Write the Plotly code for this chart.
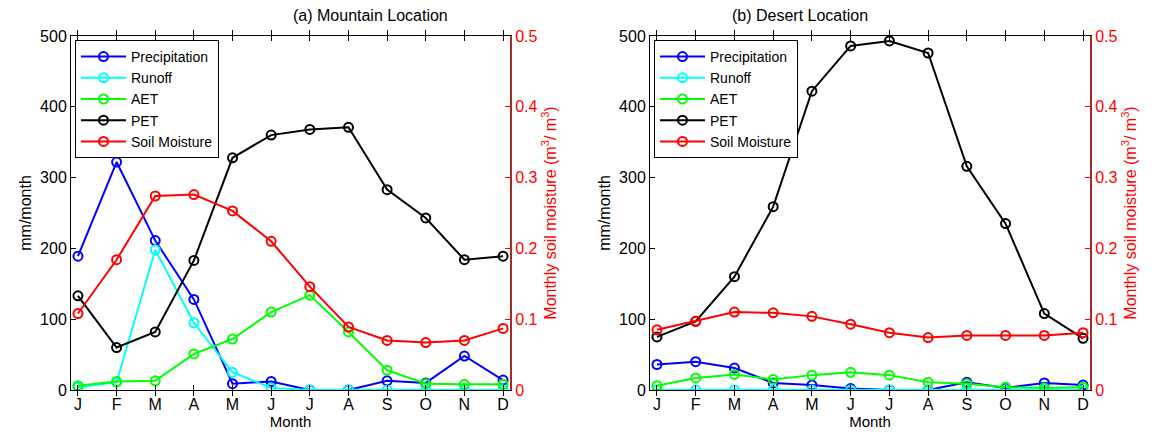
import plotly.graph_objects as go

months = ["J", "F", "M", "A", "M", "J", "J", "A", "S", "O", "N", "D"]
month_idx = list(range(1, 13))

# (a) Mountain location
mtn_precip = [189, 322, 211, 128, 9, 12, 0, 0, 13, 10, 48, 14]
mtn_runoff = [4, 11, 198, 95, 25, 3, 0, 0, 0, 0, 0, 0]
mtn_aet = [6, 12, 13, 51, 72, 110, 134, 82, 28, 9, 8, 8]
mtn_pet = [133, 60, 82, 183, 328, 360, 368, 371, 283, 243, 184, 189]
mtn_soil = [0.108, 0.184, 0.274, 0.276, 0.253, 0.210, 0.146, 0.089, 0.070, 0.067, 0.070, 0.087]

# (b) Desert location
des_precip = [36, 40, 31, 10, 7, 2, 0, 0, 11, 3, 10, 7]
des_runoff = [0, 0, 0, 0, 0, 0, 0, 0, 0, 0, 0, 0]
des_aet = [6, 17, 22, 15, 21, 25, 21, 11, 9, 4, 3, 4]
des_pet = [75, 97, 160, 259, 422, 486, 493, 476, 316, 235, 108, 73]
des_soil = [0.085, 0.097, 0.110, 0.109, 0.104, 0.093, 0.081, 0.074, 0.077, 0.077, 0.077, 0.081]

names = ["Precipitation", "Runoff", "AET", "PET", "Soil Moisture"]
colors = ["#0000FF", "#00FFFF", "#00FF00", "#000000", "#FF0000"]

FONT = "Liberation Sans, Arial, Helvetica, sans-serif"

fig = go.Figure()

def add_panel(data, xa, ya, ya2, legend):
    for i, (name, vals) in enumerate(zip(names, data)):
        fig.add_trace(go.Scatter(
            x=month_idx, y=vals, name=name, mode="lines+markers",
            line=dict(color=colors[i], width=2),
            marker=dict(symbol="circle-open", size=9, color=colors[i],
                        line=dict(width=2, color=colors[i])),
            xaxis=xa, yaxis=(ya2 if name == "Soil Moisture" else ya),
            legend=legend, showlegend=True,
        ))

add_panel([mtn_precip, mtn_runoff, mtn_aet, mtn_pet, mtn_soil], "x", "y", "y2", "legend")
add_panel([des_precip, des_runoff, des_aet, des_pet, des_soil], "x2", "y3", "y4", "legend2")

W, H = 1152, 438
dom_a = [71 / W, 510 / W]
dom_b = [650 / W, 1090 / W]
ydom = [1 - 390 / H, 1 - 36 / H]

xcommon = dict(
    range=[0.82, 12.18], tickmode="array", tickvals=month_idx, ticktext=months,
    ticks="inside", ticklen=5, tickcolor="black", showline=True, linecolor="black",
    linewidth=1, mirror="allticks", showgrid=False, zeroline=False, automargin=False,
    tickfont=dict(size=16, color="black", family=FONT),
    title=dict(text="Month", font=dict(size=15, family=FONT), standoff=2),
)
ycommon = dict(
    range=[0, 500], tickvals=[0, 100, 200, 300, 400, 500], ticks="inside", ticklen=5,
    tickcolor="black", showline=True, linecolor="black", linewidth=1, showgrid=False,
    zeroline=False, automargin=False, tickfont=dict(size=16, color="black", family=FONT),
    title=dict(text="mm/month", font=dict(size=16, family=FONT), standoff=4),
)
y2common = dict(
    range=[0, 0.5], tickvals=[0, 0.1, 0.2, 0.3, 0.4, 0.5], ticktext=["0", "0.1", "0.2", "0.3", "0.4", "0.5"],
    ticks="inside", ticklen=5, tickcolor="#FF0000", showline=True, linecolor="#A52A2A",
    linewidth=2, showgrid=False, zeroline=False, side="right", automargin=False,
    tickfont=dict(size=16, color="#FF0000", family=FONT),
    title=dict(text="Monthly soil moisture (m<sup>3</sup>/ m<sup>3</sup>)",
               font=dict(size=16, color="#FF0000", family=FONT), standoff=8),
)

legcommon = dict(
    bgcolor="white", bordercolor="black", borderwidth=1,
    font=dict(size=14, color="black", family=FONT), tracegroupgap=0,
    xanchor="left", yanchor="top", itemwidth=45,
)

fig.update_layout(
    width=W, height=H, margin=dict(l=0, r=0, t=0, b=0, autoexpand=False),
    paper_bgcolor="white", plot_bgcolor="white",
    font=dict(family=FONT, color="black"),
    xaxis=dict(domain=dom_a, anchor="y", **xcommon),
    yaxis=dict(domain=ydom, anchor="x", **ycommon),
    yaxis2=dict(overlaying="y", anchor="x", **y2common),
    xaxis2=dict(domain=dom_b, anchor="y3", **xcommon),
    yaxis3=dict(domain=ydom, anchor="x2", **ycommon),
    yaxis4=dict(overlaying="y3", anchor="x2", **y2common),
    legend=dict(x=75 / W, y=1 - 40 / H, **legcommon),
    legend2=dict(x=654 / W, y=1 - 40 / H, **legcommon),
    annotations=[
        dict(text="(a) Mountain Location", x=(dom_a[0] + dom_a[1]) / 2, y=1 - 15 / H,
             xref="paper", yref="paper", yanchor="middle", showarrow=False,
             font=dict(size=16, family=FONT)),
        dict(text="(b) Desert Location", x=(dom_b[0] + dom_b[1]) / 2, y=1 - 15 / H,
             xref="paper", yref="paper", yanchor="middle", showarrow=False,
             font=dict(size=16, family=FONT)),
    ],
)

fig.write_html("out.html")
